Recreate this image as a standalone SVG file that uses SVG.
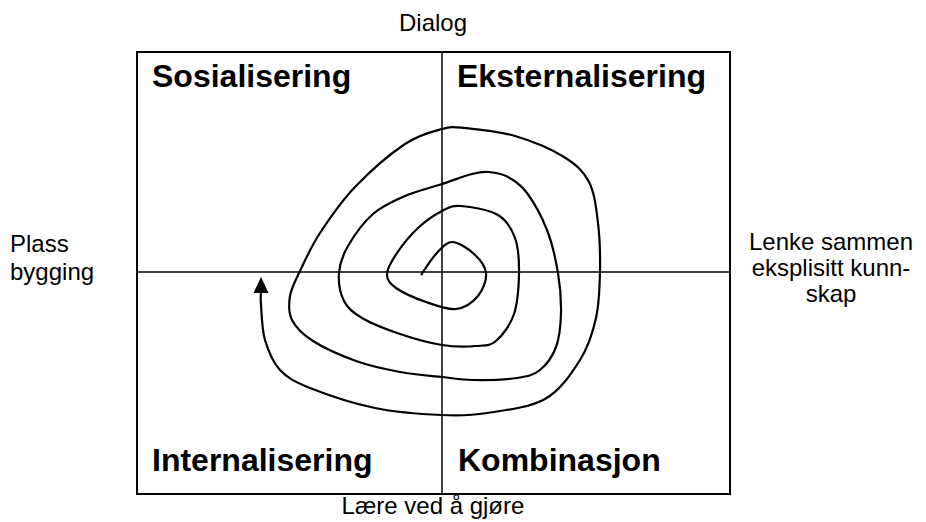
<svg xmlns="http://www.w3.org/2000/svg" width="926" height="522" viewBox="0 0 926 522">
<style>
.frame{fill:none;stroke:#000;stroke-width:2}
.axis{stroke:#000;stroke-width:1.5}
.quad{font-family:"Liberation Sans",Arial,sans-serif;font-weight:bold;font-size:32px;fill:#000}
.lbl{font-family:"Liberation Sans",Arial,sans-serif;font-size:24px;fill:#000}
.spiral{fill:none;stroke:#000;stroke-width:2.2;stroke-linecap:butt;stroke-linejoin:round}
</style>
<defs>
<marker id="arrow" viewBox="0 0 16 15" refX="3" refY="7.5" markerWidth="16" markerHeight="15" markerUnits="userSpaceOnUse" orient="auto">
<path d="M0,0 L16,7.5 L0,15 z" fill="#000"/>
</marker>
</defs>
<rect x="0" y="0" width="926" height="522" fill="#fff"/>
<g id="matrix">
<rect class="frame" x="137" y="52" width="593" height="442"/>
<line class="axis" x1="442" y1="52" x2="442" y2="494"/>
<line class="axis" x1="137" y1="272" x2="730" y2="272"/>
</g>
<g id="sosialisering"><text class="quad" x="152" y="87">Sosialisering</text></g>
<g id="eksternalisering"><text class="quad" x="457" y="87">Eksternalisering</text></g>
<g id="internalisering"><text class="quad" x="152" y="471">Internalisering</text></g>
<g id="kombinasjon"><text class="quad" x="458" y="471">Kombinasjon</text></g>
<g id="label-top"><text class="lbl" x="433" y="31" text-anchor="middle">Dialog</text></g>
<g id="label-bottom"><text class="lbl" x="433" y="514" text-anchor="middle">Lære ved å gjøre</text></g>
<g id="label-left"><text class="lbl" x="10" y="252">Plass</text><text class="lbl" x="10" y="280">bygging</text></g>
<g id="label-right"><text class="lbl" x="831" y="250" text-anchor="middle">Lenke sammen</text><text class="lbl" x="831" y="276" text-anchor="middle">eksplisitt kunn-</text><text class="lbl" x="831" y="302" text-anchor="middle">skap</text></g>
<g id="connectors">
<path class="spiral" marker-end="url(#arrow)" d="M421,275 C423.5,271.5 430.8,259.5 436,254 C441.2,248.5 445.7,242 452,242 C458.3,242 468.3,248.8 474,254 C479.7,259.2 485.3,266 486,273 C486.7,280 483,290 478,296 C473,302 464.7,308 456,309 C447.3,310 436,305.5 426,302 C416,298.5 402.5,292.7 396,288 C389.5,283.3 386.8,279.8 387,274 C387.2,268.2 391.8,260.7 397,253 C402.2,245.3 410.5,235 418,228 C425.5,221 434.8,214.7 442,211 C449.2,207.3 451.7,205.3 461,206 C470.3,206.7 489,209.7 498,215 C507,220.3 511.5,228.3 515,238 C518.5,247.7 519.2,260.3 519,273 C518.8,285.7 517.8,302.7 514,314 C510.2,325.3 502.3,335.7 496,341 C489.7,346.3 485,345.3 476,346 C467,346.7 454.7,347 442,345 C429.3,343 413.3,338.5 400,334 C386.7,329.5 371.3,323.5 362,318 C352.7,312.5 347.8,308.5 344,301 C340.2,293.5 338.3,282.2 339,273 C339.7,263.8 342.3,255.8 348,246 C353.7,236.2 363.5,222.3 373,214 C382.5,205.7 393.5,201 405,196 C416.5,191 430.8,187.7 442,184 C453.2,180.3 464.2,176 472,174 C479.8,172 483,171.5 489,172 C495,172.5 501.7,173.5 508,177 C514.3,180.5 520.5,184.2 527,193 C533.5,201.8 541.8,216.7 547,230 C552.2,243.3 555.7,259.2 558,273 C560.3,286.8 561.3,300.7 561,313 C560.7,325.3 559.5,337.5 556,347 C552.5,356.5 546.5,364.8 540,370 C533.5,375.2 528.2,376.3 517,378 C505.8,379.7 485.5,380.2 473,380 C460.5,379.8 454.2,378.3 442,377 C429.8,375.7 414.3,374.7 400,372 C385.7,369.3 370.5,366.2 356,361 C341.5,355.8 323.7,347.8 313,341 C302.3,334.2 295.8,327.5 292,320 C288.2,312.5 288.7,304.2 290,296 C291.3,287.8 295,281.5 300,271 C305,260.5 310.8,247 320,233 C329.2,219 340.8,201.8 355,187 C369.2,172.2 390.5,153.7 405,144 C419.5,134.3 432,131.7 442,129 C452,126.3 452.8,126.8 465,128 C477.2,129.2 498.5,131.2 515,136 C531.5,140.8 551.7,149.3 564,157 C576.3,164.7 583.3,171 589,182 C594.7,193 596.2,208.2 598,223 C599.8,237.8 600.3,255.2 600,271 C599.7,286.8 599.3,303.2 596,318 C592.7,332.8 588.5,346.5 580,360 C571.5,373.5 560.5,390.2 545,399 C529.5,407.8 504.2,410.3 487,413 C469.8,415.7 460.7,415.8 442,415 C423.3,414.2 397,412.5 375,408 C353,403.5 325.8,394.3 310,388 C294.2,381.7 287.5,378 280,370 C272.5,362 268.2,350.8 265,340 C261.8,329.2 261.7,313.3 261,305 C260.3,296.7 261,292.5 261,290"/>
</g>
</svg>
